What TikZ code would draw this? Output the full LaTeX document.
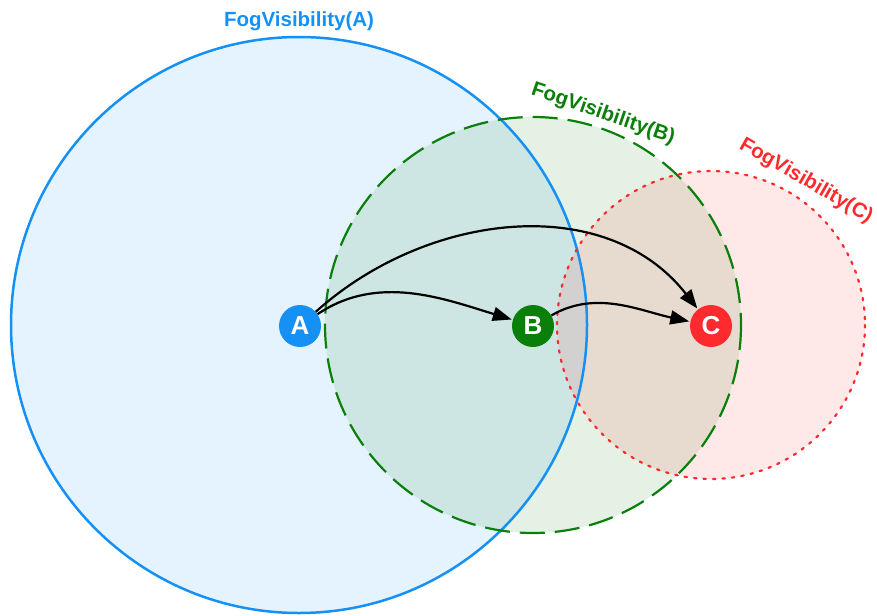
\documentclass[tikz,border=0pt]{standalone}
\usepackage{fontspec}
\setmainfont{Liberation Sans}
\usetikzlibrary{arrows.meta}
\definecolor{cblue}{HTML}{1591F5}
\definecolor{cgreen}{HTML}{0A7F0A}
\definecolor{cred}{HTML}{FF2A2E}
\tikzset{
  zone/.style={fill opacity=0.11},
  hop/.style={circle, minimum size=42pt, inner sep=0pt, text=white,
              font=\fontsize{26}{26}\selectfont\bfseries},
  zonelabel/.style={font=\fontsize{20.5}{20.5}\selectfont\bfseries, inner sep=0pt},
  link/.style={line width=2.2pt, -{Triangle[length=19pt,width=14pt]}, shorten >=1pt}
}
\begin{document}
\begin{tikzpicture}[x=1pt,y=-1pt]
\useasboundingbox (0,0) rectangle (877,615);
% visibility ranges
\fill[cblue, zone] (299,325) circle (288);
\fill[cgreen, zone] (533,325) circle (208);
\fill[cred, zone] (711,325) circle (154);
\draw[cblue, line width=2.5pt] (299,325) circle (288);
\draw[cgreen, line width=2.2pt, dash pattern=on 25pt off 10pt] (533,325) circle (208);
\draw[cred, line width=2.2pt, line cap=round, dash pattern=on 2.5pt off 7pt] (711,325) circle (154);
% range labels
\node[zonelabel, text=cblue] (la) at (299,21) {FogVisibility(A)};
\node[zonelabel, text=cgreen, rotate=-19] (lb) at (603,114) {FogVisibility(B)};
\node[zonelabel, text=cred, rotate=-30] (lc) at (806,181) {FogVisibility(C)};
% nodes
\node[hop, fill=cblue] (A) at (300,326) {A};
\node[hop, fill=cgreen] (B) at (533,326) {B};
\node[hop, fill=cred] (C) at (711,326) {C};
% connections
\draw[link] (A) to[out=34, in=163, looseness=0.95] (B);
\draw[link] (A) to[out=42, in=128, looseness=1.0] (C);
\draw[link] (B) to[out=30, in=168, looseness=0.95] (C);
\end{tikzpicture}
\end{document}
